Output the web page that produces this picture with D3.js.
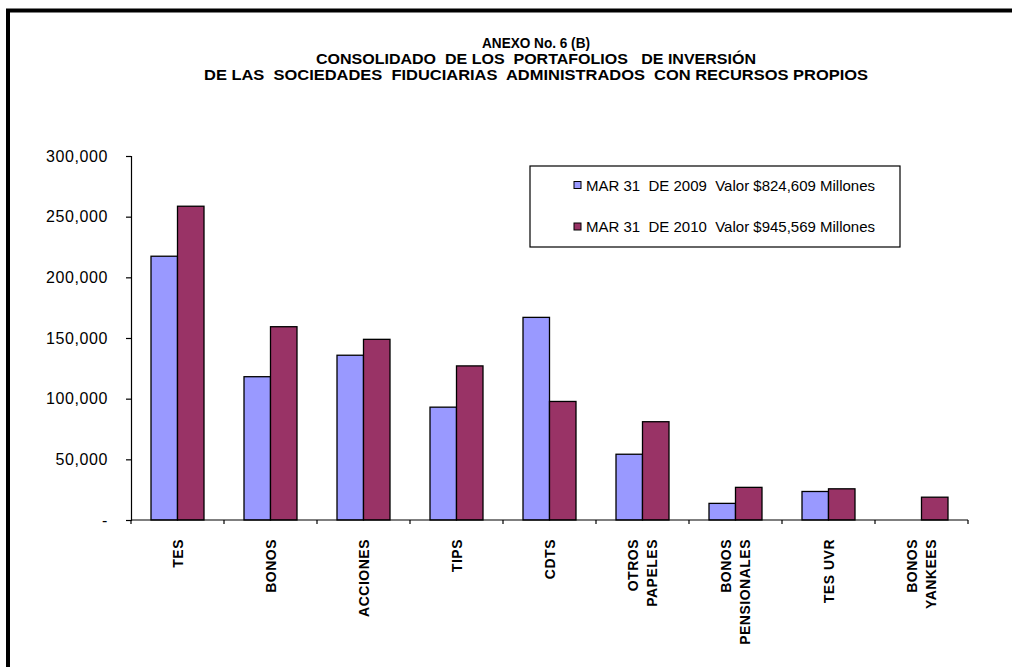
<!DOCTYPE html>
<html><head><meta charset="utf-8">
<script src="https://cdn.jsdelivr.net/npm/d3@7/dist/d3.min.js"></script>
<style>
html,body{margin:0;padding:0;background:#fff;}
svg{display:block;font-family:"Liberation Sans",Arial,sans-serif;}
text{white-space:pre;}
</style></head>
<body>
<svg id="chart" width="1012" height="667"></svg>
<script>
const titleLines = ["ANEXO No. 6 (B)", "CONSOLIDADO  DE LOS  PORTAFOLIOS   DE INVERSIÓN", "DE LAS  SOCIEDADES  FIDUCIARIAS  ADMINISTRADOS  CON RECURSOS PROPIOS"];
const titleWidths = [108, 440, 664];
const categories = ["TES", "BONOS", "ACCIONES", "TIPS", "CDTS", "OTROS\nPAPELES", "BONOS\nPENSIONALES", "TES UVR", "BONOS\nYANKEES"];
const seriesNames = ["MAR 31  DE 2009  Valor $824,609 Millones", "MAR 31  DE 2010  Valor $945,569 Millones"];
const values2009 = [217400, 118100, 135800, 93000, 167000, 54200, 13700, 23500, 0];
const values2010 = [258600, 159300, 148900, 127000, 97700, 81000, 26900, 25700, 18800];
const colors = ["#9999FF", "#993366"];
const yTicks = [0, 50000, 100000, 150000, 200000, 250000, 300000];

const svg = d3.select("#chart");

// outer frame
svg.append("rect").attr("x", 8).attr("y", 10.5).attr("width", 1100).attr("height", 700)
  .attr("fill", "none").attr("stroke", "#000").attr("stroke-width", 4);

// title
svg.append("g").selectAll("text").data(titleLines).join("text")
  .attr("x", 536).attr("y", (d, i) => 48 + i * 16)
  .attr("text-anchor", "middle").attr("font-weight", "bold").attr("font-size", 15.5)
  .attr("textLength", (d, i) => titleWidths[i]).attr("lengthAdjust", "spacingAndGlyphs")
  .text(d => d);

const x = d3.scaleBand().domain(categories).range([131, 968]).paddingInner(0).paddingOuter(0);
const xSub = d3.scaleBand().domain([0, 1]).range([0, x.bandwidth()]).paddingInner(0).paddingOuter(0.755);
const y = d3.scaleLinear().domain([0, 300000]).range([520, 156]);

// y axis
const yAxis = svg.append("g").attr("transform", "translate(131,0)")
  .call(d3.axisLeft(y).tickValues(yTicks).tickSize(5).tickPadding(18)
    .tickFormat(d => d === 0 ? "-" : d3.format(",")(d)));
yAxis.select(".domain").attr("stroke", "#000").attr("stroke-width", 1.2);
yAxis.selectAll(".tick line").attr("stroke", "#000").attr("stroke-width", 1.2);
yAxis.selectAll(".tick text").attr("font-size", 16).attr("fill", "#000")
  .attr("font-family", "'Liberation Sans',Arial,sans-serif").style("letter-spacing", "0.6px");

// bars
const data = categories.map((c, i) => ({ c, v: [values2009[i], values2010[i]] }));
const groups = svg.append("g").selectAll("g").data(data).join("g")
  .attr("transform", d => `translate(${x(d.c)},0)`);
groups.selectAll("rect").data(d => d.v.map((v, s) => ({ v, s })).filter(e => e.v > 0)).join("rect")
  .attr("x", e => xSub(e.s)).attr("width", xSub.bandwidth())
  .attr("y", e => y(e.v)).attr("height", e => y(0) - y(e.v))
  .attr("fill", e => colors[e.s]).attr("stroke", "#000").attr("stroke-width", 1.3);

// x axis
const xAxisG = svg.append("g");
xAxisG.append("line").attr("x1", x.range()[0]).attr("x2", x.range()[1])
  .attr("y1", y(0)).attr("y2", y(0)).attr("stroke", "#000").attr("stroke-width", 1.2);
const bounds = categories.map(c => x(c)).concat([x.range()[1]]);
xAxisG.selectAll("line.tk").data(bounds).join("line").attr("class", "tk")
  .attr("x1", d => d).attr("x2", d => d).attr("y1", y(0)).attr("y2", y(0) + 4)
  .attr("stroke", "#000").attr("stroke-width", 1.2);

// category labels
const lab = svg.append("g").selectAll("g").data(categories).join("g")
  .attr("transform", c => `translate(${x(c) + x.bandwidth() / 2},539) rotate(-90)`);
lab.each(function (c) {
  const lines = c.split("\n");
  const g = d3.select(this);
  lines.forEach((l, i) => {
    const off = (i - (lines.length - 1) / 2) * 19;
    g.append("text").attr("x", 0).attr("y", off + 5)
      .attr("text-anchor", "end").attr("font-weight", "bold").attr("font-size", 14)
      .style("letter-spacing", "0.5px").text(l);
  });
});

// legend
const lg = svg.append("g");
lg.append("rect").attr("x", 530).attr("y", 166).attr("width", 370).attr("height", 81)
  .attr("fill", "#fff").attr("stroke", "#000").attr("stroke-width", 1.2);
seriesNames.forEach((n, i) => {
  const cy = 185 + i * 41.5;
  lg.append("rect").attr("x", 574).attr("y", cy - 3.5).attr("width", 7).attr("height", 7)
    .attr("fill", colors[i]).attr("stroke", "#000").attr("stroke-width", 1);
  lg.append("text").attr("x", 586).attr("y", cy + 5.5).attr("font-size", 15).text(n);
});
</script>
</body></html>
